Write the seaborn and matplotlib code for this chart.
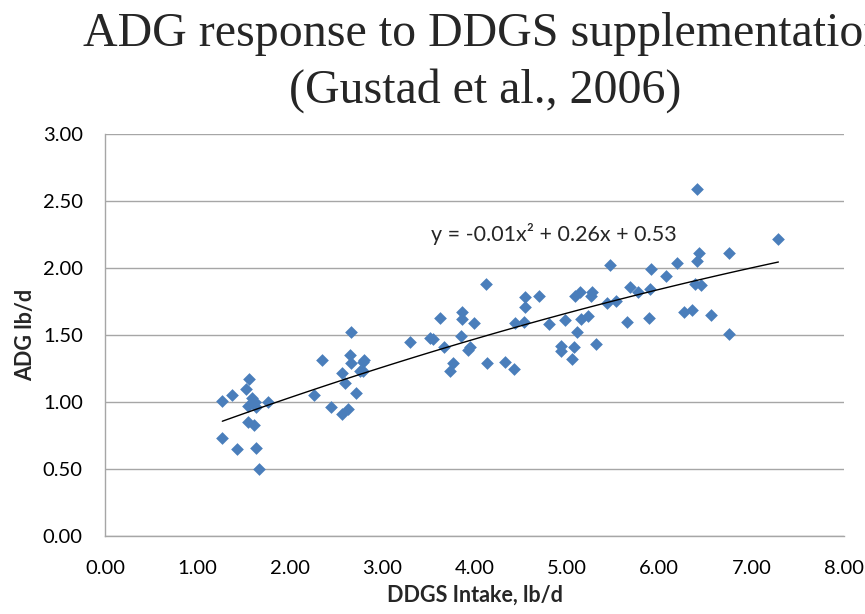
import numpy as np
import pandas as pd
import matplotlib
matplotlib.use("Agg")
import matplotlib.pyplot as plt
import seaborn as sns
from matplotlib.ticker import FormatStrFormatter

# DDGS intake (lb/d) and ADG (lb/d)
ddgs_intake = [1.27, 1.38, 1.53, 1.56, 1.59, 1.62, 1.55, 1.64, 1.76, 1.55, 1.61, 1.27, 1.43, 1.64, 1.67,
               2.26, 2.35, 2.57, 2.66, 2.79, 2.80, 2.79, 2.76, 2.60, 2.72, 2.45, 2.63, 2.57, 2.66, 2.65,
               3.30, 3.52, 3.55, 3.63, 3.67, 3.77, 3.74, 3.87, 3.87, 3.99, 3.85, 3.95, 3.93, 4.13, 4.12,
               4.33, 4.43, 4.44, 4.54, 4.55, 4.55, 4.70, 4.81, 4.94, 4.94, 4.98, 5.08, 5.06, 5.11, 5.15,
               5.09, 5.14, 5.26, 5.27, 5.23, 5.32, 5.43, 5.53, 5.47,
               5.65, 5.68, 5.77, 5.90, 5.91, 5.89, 6.07, 6.19, 6.27, 6.35, 6.39, 6.45, 6.41, 6.43, 6.41,
               6.56, 6.75, 6.76, 7.29]
adg = [1.01, 1.05, 1.10, 1.17, 1.03, 1.00, 0.97, 0.96, 1.00, 0.85, 0.83, 0.73, 0.65, 0.66, 0.50,
       1.05, 1.31, 1.22, 1.29, 1.30, 1.31, 1.23, 1.23, 1.14, 1.07, 0.96, 0.95, 0.91, 1.52, 1.35,
       1.45, 1.48, 1.47, 1.63, 1.41, 1.29, 1.23, 1.67, 1.62, 1.59, 1.49, 1.41, 1.39, 1.29, 1.88,
       1.30, 1.25, 1.59, 1.60, 1.78, 1.71, 1.79, 1.58, 1.42, 1.38, 1.61, 1.41, 1.32, 1.52, 1.62,
       1.79, 1.82, 1.79, 1.82, 1.64, 1.43, 1.74, 1.75, 2.02,
       1.60, 1.86, 1.82, 1.84, 1.99, 1.63, 1.94, 2.04, 1.67, 1.69, 1.88, 1.87, 2.05, 2.11, 2.59,
       1.65, 2.11, 1.51, 2.22]

x_ticks = [0, 1, 2, 3, 4, 5, 6, 7, 8]
y_ticks = [0, 0.5, 1.0, 1.5, 2.0, 2.5, 3.0]
equation = "y = -0.01x\u00b2 + 0.26x + 0.53"

df = pd.DataFrame({"DDGS": ddgs_intake, "ADG": adg})

sns.set_style("white")
plt.rcParams["font.family"] = ["Lato", "DejaVu Sans"]

fig = plt.figure(figsize=(8.65, 6.14), dpi=100)
ax = fig.add_axes([0.1214, 0.127, 0.8543, 0.6548])

#Gridlines first so points sit on top
ax.set_axisbelow(True)
ax.yaxis.grid(True, color="#a6a6a6", linewidth=1)

sns.scatterplot(data=df, x="DDGS", y="ADG", marker="D", s=42, color="#4a7ebb",
                linewidth=0, ax=ax, zorder=3)
#Excel style polynomial (order 2) trendline
sns.regplot(data=df, x="DDGS", y="ADG", order=2, ci=None, scatter=False,
            line_kws={"color": "black", "linewidth": 1, "zorder": 4}, ax=ax)

ax.set_xlim(0, 8)
ax.set_ylim(0, 3)
ax.set_xticks(x_ticks)
ax.set_yticks(y_ticks)
ax.xaxis.set_major_formatter(FormatStrFormatter("%.2f"))
ax.yaxis.set_major_formatter(FormatStrFormatter("%.2f"))
ax.tick_params(axis="both", labelsize=14.5, colors="#a6a6a6", labelcolor="black",
               length=6, width=1, direction="out")
ax.tick_params(axis="x", pad=11)
ax.tick_params(axis="y", pad=10)

for side in ["top", "right"]:
    ax.spines[side].set_visible(False)
for side in ["left", "bottom"]:
    ax.spines[side].set_color("#a6a6a6")
    ax.spines[side].set_linewidth(1)

ax.set_xlabel("DDGS Intake, lb/d", fontsize=15.5, fontweight="bold", labelpad=6)
ax.set_ylabel("ADG lb/d", fontsize=15.5, fontweight="bold", labelpad=5)

ax.text(3.53, 2.25, equation, fontsize=15.5, ha="left", va="center")

#Title runs past the right edge, as in the original slide
fig.text(0.5607, 0.9251, "ADG response to DDGS supplementation",
         family="Liberation Serif", fontsize=34.5, ha="center", va="baseline")
fig.text(0.5607, 0.8322, "(Gustad et al., 2006)",
         family="Liberation Serif", fontsize=34.5, ha="center", va="baseline")

fig.savefig("out.png", dpi=100)
